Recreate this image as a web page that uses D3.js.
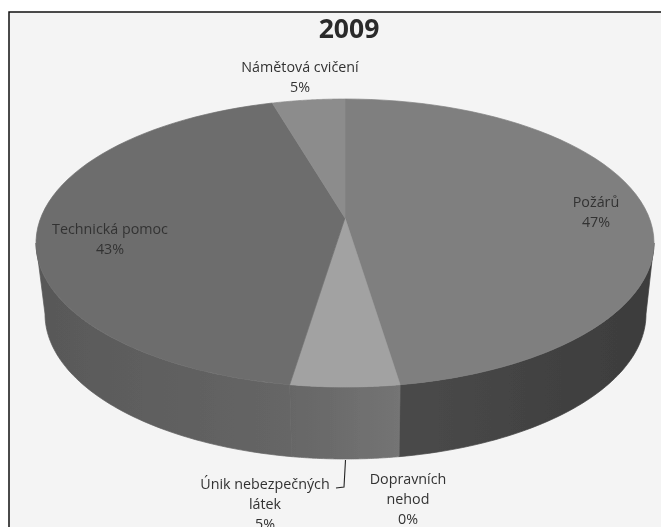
<!DOCTYPE html>
<html><head><meta charset="utf-8">
<script src="https://cdn.jsdelivr.net/npm/d3@7"></script>
<style>html,body{margin:0;padding:0;background:#fff}svg{display:block}text{font-family:"Open Sans","Noto Sans",sans-serif}</style>
</head><body><svg id="c" width="661" height="527"></svg>
<script>
const title = "2009";
const categories = ["Požárů","Dopravních nehod","Únik nebezpečných látek","Technická pomoc","Námětová cvičení"];
const values = [47.6,0.01,4.8,43.1,4.5];
const percentLabels = ["47%","0%","5%","43%","5%"];
const topColors = ["#7f7f7f","#7f7f7f","#a2a2a2","#6d6d6d","#8c8c8c"];
const wallColors = [["#3c3c3c","#4a4a4a"],["#444","#444"],["#747474","#666666"],["#666666","#585858"],["#555","#555"]];

const W=661,H=527;
const svg=d3.select("#c");
const defs=svg.append("defs");
defs.append("filter").attr("id","soft").append("feGaussianBlur").attr("stdDeviation",0.55);
svg.append("rect").attr("width",W).attr("height",H).attr("fill","#fff");
const g=svg.append("g").attr("filter","url(#soft)");
g.append("rect").attr("x",9).attr("y",12).attr("width",670).attr("height",530).attr("fill","#f4f4f4").attr("stroke","#111").attr("stroke-width",1.5);

// perspective disc: the shift moves the apex above the ellipse centre
const s=0.174;
const xTop=d3.scaleLinear([-1,1],[36,654]), yTop=d3.scaleLinear([-1,1],[387,99]);
const xBot=d3.scaleLinear([-1,1],[45,646]), yBot=d3.scaleLinear([-1,1],[459,169]);
const proj=a=>{const u=Math.sin(a),v=Math.cos(a),d=1+s*v;return [u*Math.sqrt(1-s*s)/d,(v+s)/d];};
const onTop=a=>{const [u,v]=proj(a);return [xTop(u),yTop(v)];};
const onBot=a=>{const [u,v]=proj(a);return [xBot(u),yBot(v)];};
const apex=[xTop(0),yTop(s)];
const pie=d3.pie().sort(null)(values);
const line=d3.line();
const samples=(a0,a1)=>d3.range(0,61).map(i=>a0+(a1-a0)*i/60);

// walls: only the near half of the rim, up to the silhouette
const frontFrom=Math.acos(-s), frontTo=2*Math.PI-frontFrom;
pie.forEach((p,i)=>{
  const a0=Math.max(p.startAngle,frontFrom), a1=Math.min(p.endAngle,frontTo);
  if(a1<=a0) return;
  const t=samples(a0,a1);
  const id="w"+i, x0=onTop(a0)[0], x1=onTop(a1)[0];
  const grad=defs.append("linearGradient").attr("id",id).attr("gradientUnits","userSpaceOnUse")
    .attr("x1",x0).attr("x2",x1).attr("y1",0).attr("y2",0);
  grad.append("stop").attr("offset",0).attr("stop-color",wallColors[i][0]);
  grad.append("stop").attr("offset",1).attr("stop-color",wallColors[i][1]);
  g.append("path").attr("d",line([...t.map(onTop),...t.slice().reverse().map(onBot)])+"Z")
    .attr("fill",`url(#${id})`).attr("stroke",`url(#${id})`).attr("stroke-width",0.7);
});
// top faces
pie.forEach((p,i)=>{
  g.append("path").attr("d",line([apex,...samples(p.startAngle,p.endAngle).map(onTop)])+"Z")
    .attr("fill",topColors[i]).attr("stroke",topColors[i]).attr("stroke-width",0.7);
});

// leader line
g.append("path").attr("d",line([[345.5,460],[344,487],[336,488]])).attr("fill","none").attr("stroke","#222").attr("stroke-width",1.1);

const txt=svg.append("g").attr("filter","url(#soft)").attr("text-anchor","middle");
txt.append("text").attr("x",349).attr("y",38).attr("font-size",26.5).attr("font-weight",700).attr("fill","#2a2a2a").text(title);
const labelLayout=[
 {i:0,x:596,y:207,lines:["Požárů"]},
 {i:1,x:408,y:484,lines:["Dopravních","nehod"]},
 {i:2,x:265,y:489,lines:["Únik nebezpečných","látek"]},
 {i:3,x:110,y:234,lines:["Technická pomoc"]},
 {i:4,x:300,y:72,lines:["Námětová cvičení"]}
];
labelLayout.forEach(l=>{
  [...l.lines,percentLabels[l.i]].forEach((t,k)=>{
    txt.append("text").attr("x",l.x).attr("y",l.y+k*20).attr("font-size",14.3).attr("fill","#333").text(t);
  });
});
</script></body></html>
